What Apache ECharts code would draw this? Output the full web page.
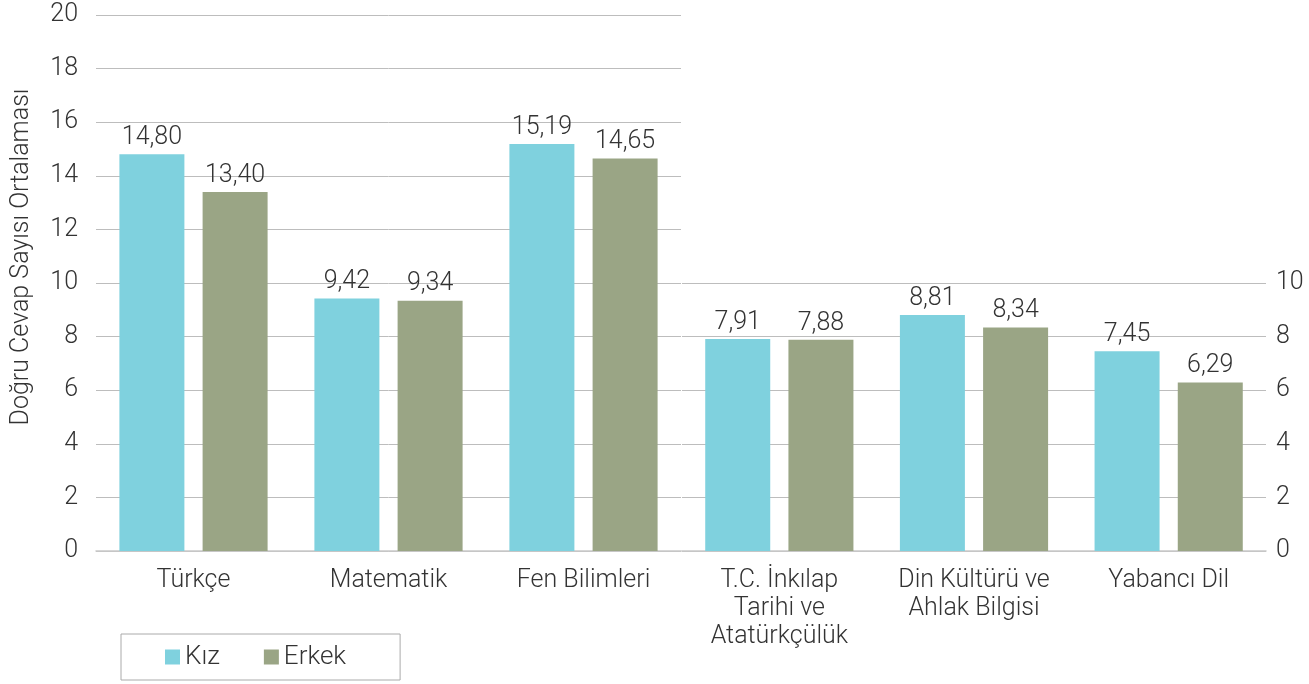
<!DOCTYPE html>
<html>
<head>
<meta charset="utf-8">
<script src="https://cdn.jsdelivr.net/npm/echarts@6/dist/echarts.min.js"></script>
<style>
  html, body { margin: 0; padding: 0; background: #fff; }
  #main { width: 1309px; height: 684px; }
</style>
</head>
<body>
<div id="main"></div>
<script>
// sol grafik: 0-20 ölçekli dersler
var leftCategories = ['Türkçe', 'Matematik', 'Fen Bilimleri'];
var leftKiz = [14.80, 9.42, 15.19];
var leftErkek = [13.40, 9.34, 14.65];

// sağ grafik: 0-10 ölçekli dersler
var rightCategories = ['T.C. İnkılap\nTarihi ve\nAtatürkçülük', 'Din Kültürü ve\nAhlak Bilgisi', 'Yabancı Dil'];
var rightKiz = [7.91, 8.81, 7.45];
var rightErkek = [7.88, 8.34, 6.29];

var leftTicks = { min: 0, max: 20, interval: 2 };
var rightTicks = { min: 0, max: 10, interval: 2 };

var kizColor = '#7fd1de';
var erkekColor = '#9aa585';
var textColor = '#333333';
var fontName = 'Roboto';

var barLabel = {
  show: true,
  position: 'top',
  distance: 4,
  color: textColor,
  fontFamily: fontName,
  fontWeight: 300,
  fontSize: 25,
  formatter: function (p) {
    return p.value.toFixed(2).replace('.', ',');
  }
};

function catAxis(gridIndex, data) {
  return {
    type: 'category',
    gridIndex: gridIndex,
    data: data,
    axisTick: { show: false },
    axisLine: { lineStyle: { color: '#c9c9c9', width: 1.5 } },
    axisLabel: {
      color: textColor,
      fontFamily: fontName,
      fontWeight: 300,
      fontSize: 25,
      margin: 16,
      lineHeight: 28,
      interval: 0
    }
  };
}

function valAxis(gridIndex, ticks, pos) {
  return {
    type: 'value',
    gridIndex: gridIndex,
    position: pos,
    min: ticks.min,
    max: ticks.max,
    interval: ticks.interval,
    axisLine: { show: false },
    axisTick: { show: false },
    splitLine: { lineStyle: { color: '#bdbdbd', width: 1 } },
    axisLabel: {
      color: textColor,
      fontFamily: fontName,
      fontWeight: 300,
      fontSize: 25,
      margin: pos === 'left' ? 18 : 10
    }
  };
}

var chart = echarts.init(document.getElementById('main'));

var leftY = valAxis(0, leftTicks, 'left');
leftY.name = 'Doğru Cevap Sayısı Ortalaması';
leftY.nameLocation = 'middle';
leftY.nameGap = 62;
leftY.nameTextStyle = {
  color: textColor,
  fontFamily: fontName,
  fontWeight: 300,
  fontSize: 25,
  padding: [0, 0, 0, 52]
};

var option = {
  animation: false,
  legend: {
    left: 121,
    top: 634,
    data: ['Kız', 'Erkek'],
    icon: 'rect',
    itemWidth: 15,
    itemHeight: 15,
    itemGap: 44,
    padding: [10, 54, 10, 44],
    borderColor: '#aaaaaa',
    borderWidth: 1,
    textStyle: {
      color: textColor,
      fontFamily: fontName,
      fontWeight: 300,
      fontSize: 26
    }
  },
  grid: [
    { left: 96, width: 585, top: 15, height: 536 },
    { left: 682, width: 584, top: 283, height: 268 }
  ],
  xAxis: [catAxis(0, leftCategories), catAxis(1, rightCategories)],
  yAxis: [leftY, valAxis(1, rightTicks, 'right')],
  series: [
    {
      name: 'Kız', type: 'bar', xAxisIndex: 0, yAxisIndex: 0,
      data: leftKiz, barWidth: 65, barGap: '28%',
      itemStyle: { color: kizColor }, label: barLabel
    },
    {
      name: 'Erkek', type: 'bar', xAxisIndex: 0, yAxisIndex: 0,
      data: leftErkek, barWidth: 65, barGap: '28%',
      itemStyle: { color: erkekColor }, label: barLabel
    },
    {
      name: 'Kız', type: 'bar', xAxisIndex: 1, yAxisIndex: 1,
      data: rightKiz, barWidth: 65, barGap: '28%',
      itemStyle: { color: kizColor }, label: barLabel
    },
    {
      name: 'Erkek', type: 'bar', xAxisIndex: 1, yAxisIndex: 1,
      data: rightErkek, barWidth: 65, barGap: '28%',
      itemStyle: { color: erkekColor }, label: barLabel
    }
  ]
};

chart.setOption(option);
</script>
</body>
</html>
